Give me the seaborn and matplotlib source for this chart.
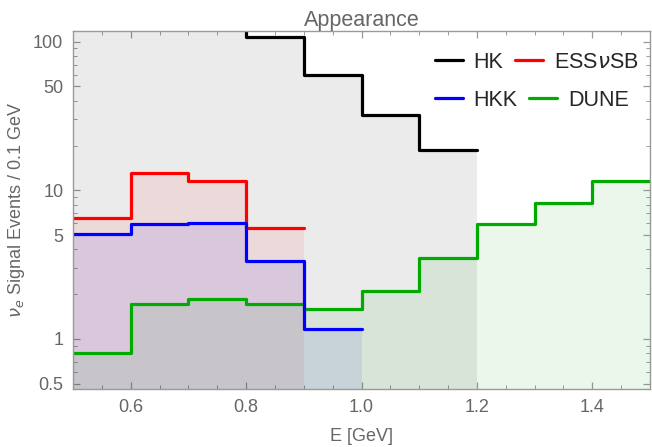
import numpy as np
import pandas as pd
import matplotlib
matplotlib.use("Agg")
import matplotlib.pyplot as plt
import seaborn as sns
from matplotlib.ticker import FixedLocator, NullFormatter, FixedFormatter, MultipleLocator

# ---- data (bin edges and per-bin event counts) ----
hk_edges = [0.5, 0.6, 0.7, 0.8, 0.9, 1.0, 1.1, 1.2]
hk_vals = [140, 190, 160, 108, 60, 32, 18.8]

ess_edges = [0.5, 0.6, 0.7, 0.8, 0.9]
ess_vals = [6.5, 13.1, 11.5, 5.6]

hkk_edges = [0.5, 0.6, 0.7, 0.8, 0.9, 1.0]
hkk_vals = [5.1, 5.9, 6.0, 3.35, 1.17]

dune_edges = [0.5, 0.6, 0.7, 0.8, 0.9, 1.0, 1.1, 1.2, 1.3, 1.4, 1.5]
dune_vals = [0.80, 1.71, 1.85, 1.72, 1.58, 2.09, 3.5, 5.9, 8.2, 11.5]

x_ticks = [0.6, 0.8, 1.0, 1.2, 1.4]
x_ticklabels = ["0.6", "0.8", "1.0", "1.2", "1.4"]
y_ticks = [0.5, 1, 5, 10, 50, 100]
y_ticklabels = ["0.5", "1", "5", "10", "50", "100"]

ESS = "ESS$\\nu$SB"
series = [
    ("HK", hk_edges, hk_vals, "#000000", (0, 0, 0)),
    (ESS, ess_edges, ess_vals, "#ff0000", (1, 0, 0)),
    ("HKK", hkk_edges, hkk_vals, "#0000ff", (0, 0, 1)),
    ("DUNE", dune_edges, dune_vals, "#00aa00", (0, 0.62, 0)),
]

sns.set_style("ticks")
plt.rcParams["font.family"] = ["Liberation Sans", "DejaVu Sans"]
plt.rcParams["mathtext.fontset"] = "dejavusans"

fig = plt.figure(figsize=(6.52, 4.47), dpi=100)
ax = fig.add_axes([73 / 652, 58 / 447, 577 / 652, 358 / 447])

ymin = 0.46
fill_alpha = {"HK": 0.08, ESS: 0.07, "HKK": 0.08, "DUNE": 0.08}

frames = []
for name, edges, vals, lc, fc in series:
    y = list(vals) + [vals[-1]]
    frames.append(pd.DataFrame({"E": edges, "N": y, "exp": name}))
    ax.fill_between(edges, y, ymin, step="post", color=fc,
                    alpha=fill_alpha[name], linewidth=0)

df = pd.concat(frames, ignore_index=True)
order = ["HK", ESS, "DUNE", "HKK"]
palette = {name: lc for name, _, _, lc, _ in series}
for name in order:
    sns.lineplot(data=df[df["exp"] == name], x="E", y="N", color=palette[name],
                 drawstyle="steps-post", linewidth=2.3, ax=ax, label=name,
                 legend=False, estimator=None, sort=False)

ax.set_yscale("log")
ax.set_xlim(0.5, 1.5)
ax.set_ylim(ymin, 118)

gray_frame = "#9a9a9a"
gray_text = "#666666"
for s in ax.spines.values():
    s.set_color(gray_frame)
    s.set_linewidth(1.0)

ax.xaxis.set_major_locator(FixedLocator(x_ticks))
ax.xaxis.set_major_formatter(FixedFormatter(x_ticklabels))
ax.xaxis.set_minor_locator(MultipleLocator(0.05))
ax.yaxis.set_major_locator(FixedLocator(y_ticks))
ax.yaxis.set_major_formatter(FixedFormatter(y_ticklabels))
minor_y = [v * d for d in (0.1, 1, 10) for v in range(1, 10)]
minor_y = [m for m in minor_y if m not in y_ticks]
ax.yaxis.set_minor_locator(FixedLocator(minor_y))
ax.yaxis.set_minor_formatter(NullFormatter())

ax.tick_params(which="both", direction="in", top=True, right=True,
               color=gray_frame, labelcolor=gray_text, labelsize=13)
ax.tick_params(which="major", length=5, width=0.9, pad=7)
ax.tick_params(which="minor", length=3, width=0.7)

ax.set_xlabel("E [GeV]", color=gray_text, fontsize=13, labelpad=9)
ax.set_ylabel("$\\nu_e$ Signal Events / 0.1 GeV", color=gray_text, fontsize=13, labelpad=4)
ax.set_title("Appearance", color=gray_text, fontsize=15.5, pad=3)

handles, labels = ax.get_legend_handles_labels()
hmap = dict(zip(labels, handles))
leg_kw = dict(ncol=2, frameon=False, fontsize=15.5, loc="center left",
              borderpad=0, handlelength=1.3, handletextpad=0.5,
              columnspacing=0.55)
row1 = ["HK", ESS]
row2 = ["HKK", "DUNE"]
leg1 = ax.legend([hmap[l] for l in row1], row1,
                 bbox_to_anchor=(0.608, 0.913), **leg_kw)
ax.add_artist(leg1)
ax.legend([hmap[l] for l in row2], row2,
          bbox_to_anchor=(0.608, 0.807), **leg_kw)

fig.savefig("out.png", dpi=100)
